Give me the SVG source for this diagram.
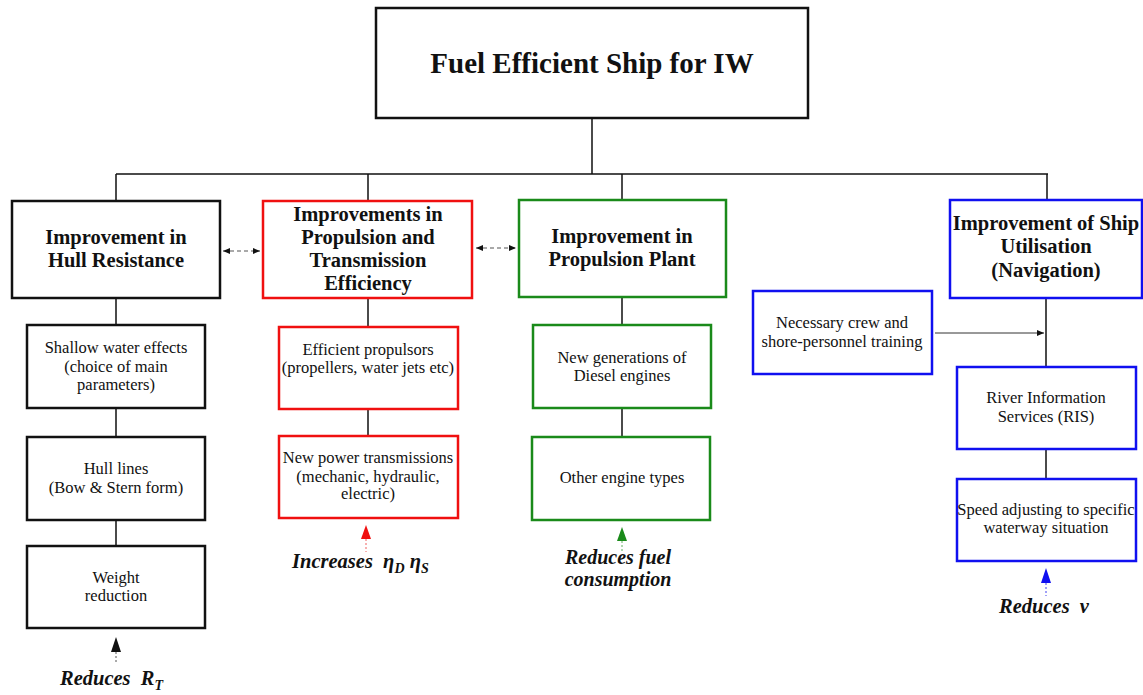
<svg xmlns="http://www.w3.org/2000/svg" width="1143" height="695" viewBox="0 0 1143 695">
<style>
text{font-family:"Liberation Serif","Times New Roman",serif;fill:#111;text-anchor:middle}
.h{font-weight:bold;font-size:20.5px}
.t{font-size:16.5px}
.e{font-weight:bold;font-style:italic;font-size:20.5px}
.box{fill:#fff;stroke-width:2.5}
.k{stroke:#111}.r{stroke:#f01010}.g{stroke:#1a8a1a}.b{stroke:#1010f0}
.ln{stroke:#111;stroke-width:1.5;fill:none}
.dsh{stroke:#555;stroke-width:1.2;stroke-dasharray:4 3;fill:none}
</style>
<defs>
<marker id="ah" markerWidth="8" markerHeight="8" refX="7" refY="4" orient="auto-start-reverse" markerUnits="userSpaceOnUse">
<path d="M0,1 L7,4 L0,7 Z" fill="#111"/>
</marker>
</defs>
<g id="connectors">
<path class="ln" d="M592,118 V174 M116,174 H1048 M116,174 V201 M368,174 V201 M622,174 V200 M1047,174 V200"/>
<path class="ln" d="M116,298 V325 M116,408 V437 M116,520 V546"/>
<path class="ln" d="M368,298 V327 M368,409 V436"/>
<path class="ln" d="M622,298 V325 M622,408 V437"/>
<path class="ln" d="M1046,298 V367 M1046,449 V479"/>
<path d="M935,333 H1044" stroke="#333" stroke-width="1" marker-end="url(#ah)"/>
<path class="dsh" d="M223,251 H260" marker-start="url(#ah)" marker-end="url(#ah)"/>
<path class="dsh" d="M476,248 H516" marker-start="url(#ah)" marker-end="url(#ah)"/>
<g id="arrow-rt"><path d="M116,637 L111,652 H121 Z" fill="#111"/><path d="M116,652 V664" stroke="#555" stroke-width="1" stroke-dasharray="2 2"/></g>
<g id="arrow-eta"><path d="M366,525 L361,539 H371 Z" fill="#f01010"/><path d="M366,539 V552" stroke="#f06060" stroke-width="1" stroke-dasharray="2 2"/></g>
<g id="arrow-fuel"><path d="M622,527 L617,541 H627 Z" fill="#1a8a1a"/><path d="M622,541 V553" stroke="#60b060" stroke-width="1" stroke-dasharray="2 2"/></g>
<g id="arrow-v"><path d="M1046,568 L1041,583 H1051 Z" fill="#1010f0"/><path d="M1046,583 V596" stroke="#4040f0" stroke-width="1" stroke-dasharray="2 2"/></g>
</g>
<g id="title">
<rect class="box k" x="376" y="8" width="432" height="110"/>
<text x="592" y="73" style="font-weight:bold;font-size:29px">Fuel Efficient Ship for IW</text>
</g>
<g id="hull">
<rect class="box k" x="12" y="201" width="208" height="97"/>
<text class="h" x="116" y="244">Improvement in</text>
<text class="h" x="116" y="267">Hull Resistance</text>
</g>
<g id="prop-trans">
<rect class="box r" x="263" y="201" width="209" height="97"/>
<text class="h" x="368" y="221">Improvements in</text>
<text class="h" x="368" y="244">Propulsion and</text>
<text class="h" x="368" y="267">Transmission</text>
<text class="h" x="368" y="290">Efficiency</text>
</g>
<g id="prop-plant">
<rect class="box g" x="519" y="200" width="207" height="97"/>
<text class="h" x="622" y="243">Improvement in</text>
<text class="h" x="622" y="266">Propulsion Plant</text>
</g>
<g id="utilisation">
<rect class="box b" x="950" y="200" width="192" height="98"/>
<text class="h" x="1046" y="230">Improvement of Ship</text>
<text class="h" x="1046" y="253">Utilisation</text>
<text class="h" x="1046" y="277">(Navigation)</text>
</g>
<g id="shallow">
<rect class="box k" x="27" y="325" width="178" height="83"/>
<text class="t" x="116" y="353">Shallow water effects</text>
<text class="t" x="116" y="372">(choice of main</text>
<text class="t" x="116" y="390">parameters)</text>
</g>
<g id="hull-lines">
<rect class="box k" x="27" y="437" width="178" height="83"/>
<text class="t" x="116" y="474">Hull lines</text>
<text class="t" x="116" y="493">(Bow &amp; Stern form)</text>
</g>
<g id="weight">
<rect class="box k" x="27" y="546" width="178" height="82"/>
<text class="t" x="116" y="583">Weight</text>
<text class="t" x="116" y="601">reduction</text>
</g>
<g id="propulsors">
<rect class="box r" x="279" y="327" width="179" height="82"/>
<text class="t" x="368" y="355">Efficient propulsors</text>
<text class="t" x="368" y="373">(propellers, water jets etc)</text>
</g>
<g id="transmissions">
<rect class="box r" x="279" y="436" width="179" height="82"/>
<text class="t" x="368" y="463">New power transmissions</text>
<text class="t" x="368" y="482">(mechanic, hydraulic,</text>
<text class="t" x="368" y="499">electric)</text>
</g>
<g id="diesel">
<rect class="box g" x="533" y="325" width="178" height="83"/>
<text class="t" x="622" y="363">New generations of</text>
<text class="t" x="622" y="381">Diesel engines</text>
</g>
<g id="other-engines">
<rect class="box g" x="532" y="437" width="178" height="83"/>
<text class="t" x="622" y="483">Other engine types</text>
</g>
<g id="crew">
<rect class="box b" x="753" y="291" width="179" height="83"/>
<text class="t" x="842" y="328">Necessary crew and</text>
<text class="t" x="842" y="347">shore-personnel training</text>
</g>
<g id="ris">
<rect class="box b" x="957" y="367" width="179" height="82"/>
<text class="t" x="1046" y="403">River Information</text>
<text class="t" x="1046" y="422">Services (RIS)</text>
</g>
<g id="speed">
<rect class="box b" x="957" y="479" width="179" height="82"/>
<text class="t" x="1046" y="515">Speed adjusting to specific</text>
<text class="t" x="1046" y="533">waterway situation</text>
</g>
<g id="effects">
<text class="e" x="60" y="685" style="text-anchor:start;white-space:pre">Reduces  R<tspan font-size="14" dy="5">T</tspan></text>
<text class="e" x="292" y="568" style="text-anchor:start;white-space:pre">Increases  η<tspan font-size="14" dy="5">D</tspan><tspan dy="-5"> η</tspan><tspan font-size="14" dy="5">S</tspan></text>
<text class="e" x="618" y="564" style="font-size:20px">Reduces fuel</text>
<text class="e" x="618" y="586" style="font-size:20px">consumption</text>
<text class="e" x="1044" y="613" style="white-space:pre">Reduces  v</text>
</g>
</svg>
